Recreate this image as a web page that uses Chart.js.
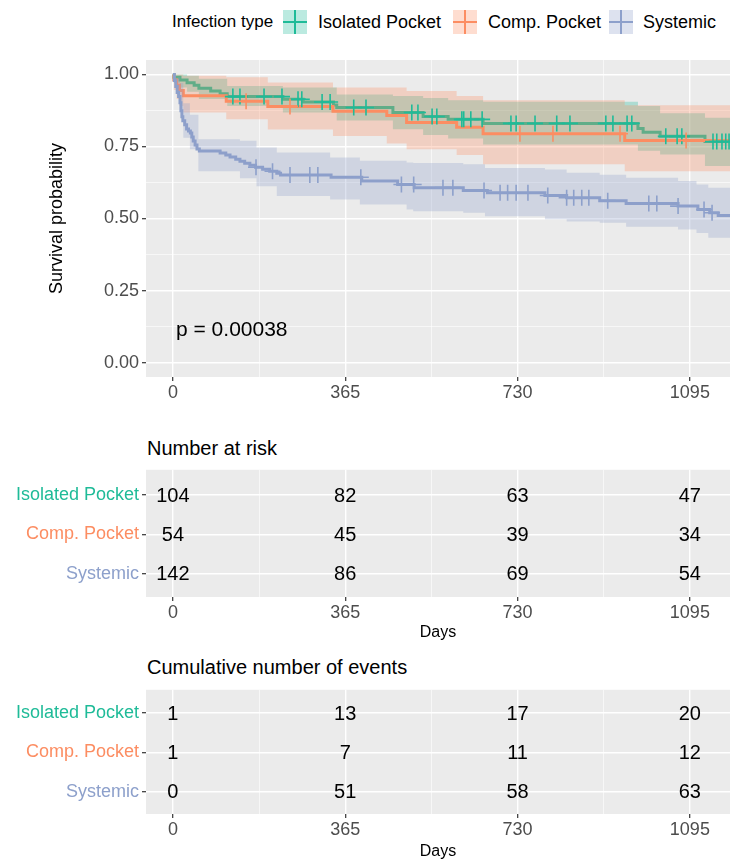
<!DOCTYPE html>
<html>
<head>
<meta charset="utf-8">
<script src="https://cdn.jsdelivr.net/npm/chart.js@4.4.0/dist/chart.umd.min.js"></script>
<style>
  body { margin: 0; width: 730px; height: 861px; position: relative; background: #fff; overflow: hidden;
         font-family: "Liberation Sans", Arial, sans-serif; }
  canvas { position: absolute; left: 0; }
  .txt { position: absolute; white-space: nowrap; line-height: 1; color: #000; }
  .key { position: absolute; top: 10px; width: 24px; height: 24px; }
  .key i { position: absolute; left: 0; top: 11px; width: 24px; height: 2px; }
  .key b { position: absolute; left: 11px; top: 0; width: 2px; height: 24px; }
</style>
</head>
<body>
<div class="txt" style="left:172px;top:13px;font-size:17px">Infection type</div>
<div class="key" style="left:283px;background:rgba(31,187,152,0.3)"><i style="background:#1FBB98"></i><b style="background:#1FBB98"></b></div>
<div class="txt" style="left:318px;top:13px;font-size:18px">Isolated Pocket</div>
<div class="key" style="left:453px;background:rgba(252,141,98,0.3)"><i style="background:#FC8D62"></i><b style="background:#FC8D62"></b></div>
<div class="txt" style="left:488px;top:13px;font-size:18px">Comp. Pocket</div>
<div class="key" style="left:609px;background:rgba(141,160,203,0.3)"><i style="background:#8DA0CB"></i><b style="background:#8DA0CB"></b></div>
<div class="txt" style="left:643px;top:13px;font-size:18px">Systemic</div>

<canvas id="surv" width="730" height="420" style="top:0"></canvas>
<div class="txt" style="left:176px;top:318px;font-size:21px">p = 0.00038</div>

<div class="txt" style="left:147px;top:438px;font-size:20px">Number at risk</div>
<canvas id="risk" width="730" height="190" style="top:456px"></canvas>

<div class="txt" style="left:147px;top:657px;font-size:20px">Cumulative number of events</div>
<canvas id="events" width="730" height="185" style="top:676px"></canvas>

<script>
Chart.defaults.font.family = "'Liberation Sans', Arial, sans-serif";
Chart.defaults.animation = false;

const groups = ["Isolated Pocket", "Comp. Pocket", "Systemic"];
const colors = ["#1FBB98", "#FC8D62", "#8DA0CB"];
const days = [0, 365, 730, 1095];
const xTicks = [0, 182.5, 365, 547.5, 730, 912.5, 1095];
const yMajor = [0, 0.25, 0.5, 0.75, 1];
const yTicks = [0, 0.125, 0.25, 0.375, 0.5, 0.625, 0.75, 0.875, 1];
const lastDay = 1180;

// Isolated pocket curve
const isoTime = [0, 2, 15, 30, 45, 55, 80, 100, 115, 233, 276, 340, 347, 466, 530, 583, 657, 985, 996, 1032, 1127];
const isoSurv = [1, 0.990, 0.981, 0.971, 0.962, 0.952, 0.942, 0.933, 0.923, 0.914, 0.904, 0.894, 0.885, 0.868, 0.854, 0.844, 0.830, 0.812, 0.799, 0.785, 0.767];
const isoCensor = [127, 142, 193, 231, 265, 273, 316, 333, 383, 409, 506, 519, 549, 559, 612, 616, 631, 655, 716, 727, 767, 813, 841, 917, 932, 962, 972, 1044, 1068, 1078, 1144, 1152, 1163, 1171, 1178];
const isoBandTime = [0, 2, 15, 30, 55, 115, 233, 347, 466, 530, 583, 657, 985, 1032, 1127];
const isoUpper = [1, 1, 1, 0.995, 0.985, 0.96, 0.955, 0.93, 0.925, 0.918, 0.91, 0.905, 0.89, 0.865, 0.85];
const isoLower = [1, 0.97, 0.955, 0.94, 0.915, 0.89, 0.868, 0.84, 0.81, 0.79, 0.778, 0.757, 0.735, 0.722, 0.682];

// Comp. pocket curve
const compTime = [0, 2, 8, 14, 22, 113, 201, 339, 453, 495, 601, 657, 957];
const compSurv = [1, 0.981, 0.963, 0.944, 0.926, 0.907, 0.889, 0.872, 0.857, 0.833, 0.817, 0.794, 0.771];
const compCensor = [155, 248, 735, 805, 947, 1087];
const compBandTime = [0, 2, 8, 14, 22, 113, 201, 339, 453, 495, 601, 657, 957];
const compUpper = [1, 1, 1, 1, 0.995, 0.99, 0.972, 0.955, 0.955, 0.942, 0.925, 0.91, 0.893];
const compLower = [1, 0.946, 0.915, 0.89, 0.868, 0.844, 0.809, 0.786, 0.76, 0.74, 0.72, 0.688, 0.664];

// Systemic curve
const sysTime = [0, 3, 6, 9, 12, 15, 17, 19, 21, 25, 29, 33, 37, 40, 43, 47, 51, 56, 100, 112, 121, 133, 142, 152, 163, 175, 190, 205, 220, 228, 335, 400, 476, 511, 615, 666, 788, 834, 904, 960, 1070, 1112, 1137, 1155];
const sysSurv = [1, 0.979, 0.958, 0.937, 0.923, 0.902, 0.874, 0.853, 0.839, 0.825, 0.811, 0.804, 0.797, 0.783, 0.769, 0.755, 0.741, 0.734, 0.727, 0.720, 0.713, 0.706, 0.699, 0.692, 0.685, 0.678, 0.671, 0.664, 0.657, 0.651, 0.643, 0.630, 0.618, 0.607, 0.597, 0.589, 0.580, 0.572, 0.562, 0.552, 0.543, 0.531, 0.520, 0.510];
const sysCensor = [176, 211, 248, 290, 307, 398, 484, 510, 572, 593, 659, 693, 709, 727, 752, 794, 834, 849, 866, 881, 921, 1008, 1025, 1070, 1125, 1142];
const sysBandTime = [0, 10, 15, 22, 36, 54, 142, 177, 220, 333, 396, 495, 509, 615, 661, 788, 834, 904, 960, 1070, 1109, 1134];
const sysUpper = [1, 0.99, 0.97, 0.9, 0.86, 0.775, 0.77, 0.746, 0.729, 0.712, 0.70, 0.694, 0.693, 0.688, 0.675, 0.67, 0.659, 0.652, 0.641, 0.63, 0.618, 0.607];
const sysLower = [1, 0.92, 0.87, 0.78, 0.74, 0.664, 0.64, 0.612, 0.578, 0.566, 0.549, 0.531, 0.525, 0.52, 0.508, 0.497, 0.49, 0.485, 0.471, 0.462, 0.45, 0.433];

// tables
const riskIso = [104, 82, 63, 47];
const riskComp = [54, 45, 39, 34];
const riskSys = [142, 86, 69, 54];
const eventsIso = [1, 13, 17, 20];
const eventsComp = [1, 7, 11, 12];
const eventsSys = [0, 51, 58, 63];

function stepData(times, vals) {
  const pts = times.map((t, i) => ({ x: t, y: vals[i] }));
  pts.push({ x: lastDay, y: vals[vals.length - 1] });
  return pts;
}
function survAt(times, vals, t) {
  let s = vals[0];
  for (let i = 0; i < times.length; i++) if (times[i] <= t) s = vals[i];
  return s;
}
function alpha(hex, a) {
  const n = parseInt(hex.slice(1), 16);
  return `rgba(${n >> 16},${(n >> 8) & 255},${n & 255},${a})`;
}

const panelBg = {
  id: "panelBg",
  beforeDraw(chart) {
    const { ctx, chartArea: a } = chart;
    ctx.save();
    ctx.fillStyle = "#EBEBEB";
    ctx.fillRect(a.left, a.top, a.right - a.left, a.bottom - a.top);
    ctx.restore();
  },
};

const isMajorX = (c) => c.tick && days.includes(c.tick.value);

function dayScale(height, title, titlePad) {
  return {
    type: "linear", min: -57, max: lastDay,
    afterBuildTicks: (s) => { s.ticks = xTicks.map((v) => ({ value: v })); },
    afterFit: (s) => { s.height = height; },
    ticks: {
      autoSkip: false, maxRotation: 0, padding: 1, color: "#4D4D4D", font: { size: 18 },
      callback: (v) => (days.includes(v) ? String(v) : ""),
    },
    grid: {
      color: "#FFFFFF",
      lineWidth: (c) => (isMajorX(c) ? 1.4 : 0.6),
      tickColor: (c) => (isMajorX(c) ? "#333333" : "rgba(0,0,0,0)"),
      tickLength: 4, tickWidth: 1.2,
    },
    border: { display: false },
    title: { display: !!title, text: title, color: "#000", font: { size: 16 }, padding: { top: 0, bottom: titlePad } },
  };
}

// survival curves: each group's line sits under its own ribbon, marks on top
const curves = [
  [isoTime, isoSurv, isoCensor, isoBandTime, isoUpper, isoLower],
  [compTime, compSurv, compCensor, compBandTime, compUpper, compLower],
  [sysTime, sysSurv, sysCensor, sysBandTime, sysUpper, sysLower],
];
const survSets = [];
curves.forEach(([t, s, cens, bt, up, lo], g) => {
  const base = 6 - g * 2;
  survSets.push({
    data: stepData(t, s), stepped: true, borderColor: colors[g], borderWidth: 3,
    pointRadius: 0, fill: false, order: base,
  });
  survSets.push({
    data: stepData(bt, up), stepped: true, borderColor: "rgba(0,0,0,0)", borderWidth: 0,
    pointRadius: 0, fill: "+1", backgroundColor: alpha(colors[g], 0.3), order: base - 1,
  });
  survSets.push({
    data: stepData(bt, lo), stepped: true, borderColor: "rgba(0,0,0,0)", borderWidth: 0,
    pointRadius: 0, fill: false, order: base - 1,
  });
  survSets.push({
    data: cens.map((d) => ({ x: d, y: survAt(t, s, d) })), showLine: false,
    pointStyle: "cross", pointRadius: 8, borderColor: colors[g], borderWidth: 1.6, order: 0.3 - g / 10,
  });
});

new Chart(document.getElementById("surv"), {
  type: "line",
  data: { datasets: survSets },
  plugins: [panelBg],
  options: {
    responsive: false,
    layout: { autoPadding: false, padding: { top: 60, left: 0, right: 0, bottom: 0 } },
    plugins: { legend: { display: false }, tooltip: { enabled: false } },
    scales: {
      x: dayScale(43, "", 0),
      y: {
        min: -0.05, max: 1.05,
        afterBuildTicks: (s) => { s.ticks = yTicks.map((v) => ({ value: v })); },
        afterFit: (s) => { s.width = 146; },
        ticks: {
          padding: 3, color: "#4D4D4D", font: { size: 18 },
          callback: (v) => (yMajor.includes(v) ? v.toFixed(2) : ""),
        },
        grid: {
          color: "#FFFFFF",
          lineWidth: (c) => (c.tick && yMajor.includes(c.tick.value) ? 1.4 : 0.6),
          tickColor: (c) => (c.tick && yMajor.includes(c.tick.value) ? "#333333" : "rgba(0,0,0,0)"),
          tickLength: 4, tickWidth: 1.2,
        },
        border: { display: false },
        title: { display: true, text: "Survival probability", color: "#000", font: { size: 18 }, padding: { top: 46, bottom: 0 } },
      },
    },
  },
});

// number tables
const cellText = {
  id: "cellText",
  afterDatasetsDraw(chart) {
    const ctx = chart.ctx;
    ctx.save();
    ctx.font = "20px 'Liberation Sans', Arial, sans-serif";
    ctx.fillStyle = "#000";
    ctx.textAlign = "center";
    ctx.textBaseline = "middle";
    chart.data.datasets.forEach((ds, i) => {
      chart.getDatasetMeta(i).data.forEach((pt, j) => ctx.fillText(String(ds.counts[j]), pt.x, pt.y + 1));
    });
    ctx.restore();
  },
};

function tableChart(id, values, yMin, yMax, xHeight, titlePad) {
  const datasets = groups.map((g, i) => ({
    label: g, counts: values[i], pointRadius: 0,
    data: days.map((d) => ({ x: d, y: 3 - i })),
  }));
  new Chart(document.getElementById(id), {
    type: "scatter",
    data: { datasets },
    plugins: [panelBg, cellText],
    options: {
      responsive: false,
      layout: { autoPadding: false, padding: { top: 10, left: 0, right: 0, bottom: 0 } },
      plugins: { legend: { display: false }, tooltip: { enabled: false } },
      scales: {
        x: dayScale(xHeight, "Days", titlePad),
        y: {
          min: yMin, max: yMax,
          afterBuildTicks: (s) => { s.ticks = [1, 2, 3].map((v) => ({ value: v })); },
          afterFit: (s) => { s.width = 146; },
          ticks: {
            padding: 3, font: { size: 18 },
            color: (c) => colors[3 - c.tick.value],
            callback: (v) => groups[3 - v],
          },
          grid: { color: "#FFFFFF", lineWidth: 1.4, tickColor: "#333333", tickLength: 4, tickWidth: 1.2 },
          border: { display: false },
        },
      },
    },
  });
}

tableChart("risk", [riskIso, riskComp, riskSys], 0.41, 3.64, 49, 4);
tableChart("events", [eventsIso, eventsComp, eventsSys], 0.43, 3.59, 47, 0);
</script>
</body>
</html>
